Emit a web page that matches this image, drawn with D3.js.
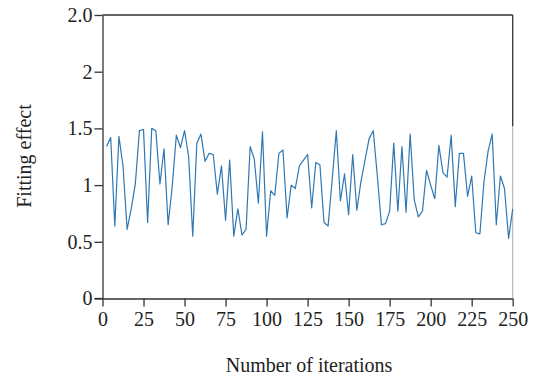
<!DOCTYPE html>
<html><head><meta charset="utf-8">
<script src="https://cdn.jsdelivr.net/npm/d3@7"></script>
<style>
html,body{margin:0;padding:0;background:#fff;}
svg{display:block;}
svg text{font-family:"Liberation Serif","Times New Roman",serif !important;fill:#222;}
</style></head>
<body><svg id="chart" width="538" height="383"></svg>
<script>
const iterations = [2.5,5,7.5,10,12.5,15,17.5,20,22.5,25,27.5,30,32.5,35,37.5,40,42.5,45,47.5,50,
52.5,55,57.5,60,62.5,65,67.5,70,72.5,75,77.5,80,82.5,85,87.5,90,92.5,95,97.5,100,
102.5,105,107.5,110,112.5,115,117.5,120,122.5,125,127.5,130,132.5,135,137.5,140,142.5,145,147.5,150,
152.5,155,157.5,160,162.5,165,167.5,170,172.5,175,177.5,180,182.5,185,187.5,190,192.5,195,197.5,200,
202.5,205,207.5,210,212.5,215,217.5,220,222.5,225,227.5,230,232.5,235,237.5,240,242.5,245,247.5,250];
const fitting = [1.34,1.42,0.64,1.43,1.17,0.61,0.79,1.01,1.48,1.49,0.67,1.50,1.48,1.01,1.32,0.65,0.99,1.44,1.33,1.48,
1.25,0.55,1.37,1.45,1.21,1.28,1.27,0.92,1.17,0.69,1.22,0.55,0.79,0.56,0.61,1.34,1.23,0.84,1.47,0.55,
0.95,0.91,1.28,1.31,0.71,1.00,0.97,1.17,1.22,1.27,0.80,1.20,1.18,0.67,0.64,1.05,1.48,0.86,1.10,0.74,
1.27,0.78,1.03,1.22,1.41,1.48,1.08,0.65,0.66,0.77,1.37,0.77,1.34,0.76,1.45,0.87,0.72,0.77,1.13,1.00,
0.88,1.35,1.11,1.07,1.44,0.81,1.28,1.28,0.90,1.08,0.58,0.57,1.03,1.30,1.45,0.65,1.08,0.97,0.53,0.79];
const xTicks = [0,25,50,75,100,125,150,175,200,225,250];
const yTicks = [0,0.5,1,1.5,2,2.5];
const yTickLabels = ["0","0.5","1","1.5","2","2.0"];

const svg = d3.select("#chart");
const x = d3.scaleLinear().domain([0,250]).range([102.5,512.7]);
const y = d3.scaleLinear().domain([0,2.5]).range([298.5,15]);
const axisColor = "#333";
const serif = '"Liberation Serif", "Times New Roman", serif';

const gx = svg.append("g").attr("transform",`translate(0,${y(0)})`)
  .call(d3.axisBottom(x).tickValues(xTicks).tickFormat(d3.format("d")).tickSize(8).tickSizeOuter(0));
const gy = svg.append("g").attr("transform",`translate(${x(0)},0)`)
  .call(d3.axisLeft(y).tickValues(yTicks).tickFormat((d,i)=>yTickLabels[i]).tickSize(8).tickSizeOuter(0));
[gx,gy].forEach(g=>{
  g.attr("font-family",null).attr("font-size",null);
  g.selectAll("path.domain").attr("stroke",axisColor).attr("stroke-width",1.3);
  g.selectAll(".tick line").attr("stroke",axisColor).attr("stroke-width",1.3);
  g.selectAll(".tick text").style("font-family",serif).style("font-size","20px").style("fill","#222");
});
gx.selectAll(".tick text").attr("dy","0.9em").attr("y",9);
gy.selectAll(".tick text").attr("x",-10);
svg.append("line").attr("x1",x(0)-8).attr("x2",x(0)).attr("y1",y(0)).attr("y2",y(0)).attr("stroke",axisColor).attr("stroke-width",1.3);
svg.append("line").attr("x1",x(0)).attr("x2",x(250)).attr("y1",y(2.5)).attr("y2",y(2.5)).attr("stroke",axisColor).attr("stroke-width",1.3);
svg.append("line").attr("x1",x(250)).attr("x2",x(250)).attr("y1",y(2.5)).attr("y2",y(1.52)).attr("stroke",axisColor).attr("stroke-width",1.3);
svg.append("line").attr("x1",x(250)).attr("x2",x(250)).attr("y1",y(1.52)).attr("y2",y(0)).attr("stroke","#aaa").attr("stroke-width",1);

const line = d3.line().x((d,i)=>x(iterations[i])).y(d=>y(d));
svg.append("path").datum(fitting).attr("d",line).attr("fill","none")
  .attr("stroke","#2f78b4").attr("stroke-width",1.2).attr("stroke-linejoin","round");

svg.append("text").attr("x",309).attr("y",372).attr("text-anchor","middle")
  .style("font-family",serif).style("font-size","20px").text("Number of iterations");
svg.append("text").attr("transform","translate(31,156) rotate(-90)").attr("text-anchor","middle")
  .style("font-family",serif).style("font-size","20px").text("Fitting effect");
</script></body></html>
